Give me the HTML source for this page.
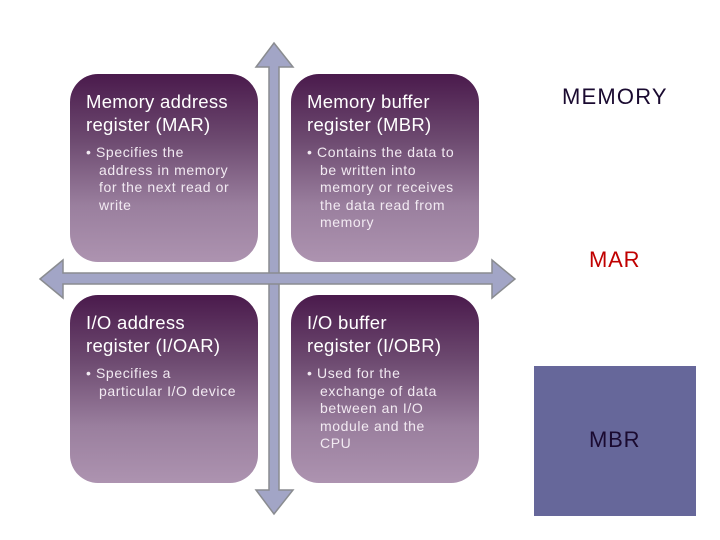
<!DOCTYPE html>
<html><head><style>
body{margin:0;width:720px;height:540px;background:#fff;position:relative;overflow:hidden;font-family:"Liberation Sans",sans-serif}
.b{position:absolute;width:188px;height:188px;border-radius:28px;background:linear-gradient(#4a1a4c,#6d4a70 35%,#9a7f9e 70%,#ad93b0);color:#fff;box-sizing:border-box;padding:16px 6px 0 16px}
.t{font-size:18.5px;line-height:23px;letter-spacing:0.3px;white-space:nowrap}
.u{font-size:14px;line-height:17.5px;color:#f2eaf2;margin-top:8px;padding-left:13px;text-indent:-13px;white-space:nowrap;letter-spacing:0.6px}
.l{position:absolute;font-size:22px}
</style></head><body>
<svg width="720" height="540" style="position:absolute;left:0;top:0">
<polygon points="274,43 293,67 279,67 279,490 293,490 274,514 256,490 269,490 269,67 256,67" fill="#a2a5c6" stroke="#8a8c90" stroke-width="1.5"/>
<polygon points="40,279 63,260 63,273 492,273 492,260 515,279 492,298 492,284 63,284 63,298" fill="#a2a5c6" stroke="#8a8c90" stroke-width="1.5"/>
</svg>
<div class="b" style="left:70px;top:74px"><div class="t">Memory address<br>register (MAR)</div><div class="u">• Specifies the<br>address in memory<br>for the next read or<br>write</div></div>
<div class="b" style="left:291px;top:74px"><div class="t">Memory buffer<br>register (MBR)</div><div class="u">• Contains the data to<br>be written into<br>memory or receives<br>the data read from<br>memory</div></div>
<div class="b" style="left:70px;top:295px"><div class="t">I/O address<br>register (I/OAR)</div><div class="u">• Specifies a<br>particular I/O device</div></div>
<div class="b" style="left:291px;top:295px"><div class="t">I/O buffer<br>register (I/OBR)</div><div class="u">• Used for the<br>exchange of data<br>between an I/O<br>module and the<br>CPU</div></div>
<div class="l" style="left:562px;top:84px;color:#1a0a30;letter-spacing:1.2px">MEMORY</div>
<div class="l" style="left:589px;top:247px;color:#c00000;letter-spacing:0.8px">MAR</div>
<div style="position:absolute;left:534px;top:366px;width:162px;height:150px;background:#66679a"></div>
<div class="l" style="left:589px;top:427px;color:#1a0a30;letter-spacing:0.8px">MBR</div>
</body></html>
